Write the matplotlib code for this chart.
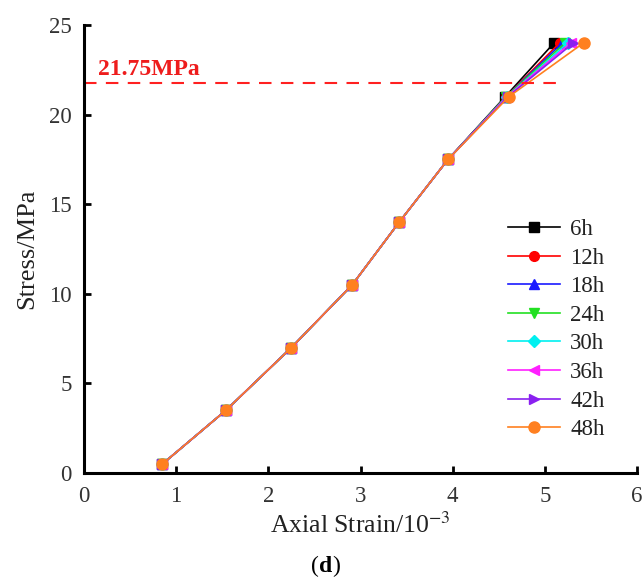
import matplotlib
matplotlib.use("Agg")
import matplotlib.pyplot as plt

plt.rcParams['font.family'] = ['Liberation Serif', 'DejaVu Serif']
plt.rcParams['mathtext.fontset'] = 'stix'

# Stress levels (MPa) shared by every curing time
stress = [0.5, 3.5, 7.0, 10.5, 14.0, 17.5, 21.0, 24.0]

# Axial strain (x10^-3) for each curing time
strain_6h = [0.85, 1.54, 2.25, 2.91, 3.42, 3.95, 4.57, 5.10]
strain_12h = [0.85, 1.54, 2.25, 2.91, 3.42, 3.95, 4.58, 5.16]
strain_18h = [0.85, 1.54, 2.25, 2.91, 3.42, 3.95, 4.58, 5.19]
strain_24h = [0.85, 1.54, 2.25, 2.91, 3.42, 3.95, 4.58, 5.22]
strain_30h = [0.85, 1.54, 2.25, 2.91, 3.42, 3.95, 4.59, 5.25]
strain_36h = [0.85, 1.54, 2.25, 2.91, 3.42, 3.95, 4.59, 5.28]
strain_42h = [0.85, 1.54, 2.25, 2.91, 3.42, 3.95, 4.60, 5.31]
strain_48h = [0.85, 1.54, 2.25, 2.91, 3.42, 3.95, 4.61, 5.42]

labels = ['6h', '12h', '18h', '24h', '30h', '36h', '42h', '48h']
series = [strain_6h, strain_12h, strain_18h, strain_24h,
          strain_30h, strain_36h, strain_42h, strain_48h]
colors = ['#000000', '#ff0000', '#1a1aff', '#22e022',
          '#00f0f0', '#ff20ff', '#8a20f0', '#ff8020']
markers = ['s', 'o', '^', 'v', 'D', '<', '>', 'o']
msizes = [7, 7, 7, 7, 6, 7, 7, 8]

threshold = 21.75

W, H = 642, 588
fig = plt.figure(figsize=(W / 100, H / 100), dpi=100)
ax = fig.add_axes([84 / W, 1 - 473 / H, (637 - 84) / W, (473 - 25) / H])

for xs, lab, c, m, ms in zip(series, labels, colors, markers, msizes):
    ax.plot(xs, stress, color=c, marker=m, markersize=ms, linewidth=1.2,
            label=lab)

ax.plot([0, 5.2], [threshold, threshold], color='#ff2020', linestyle=(0, (6, 4.5)),
        linewidth=1.5)
ax.text(0.15, threshold + 0.18, '21.75MPa', color='#ee1c1c', fontsize=17,
        fontweight='bold', va='bottom', ha='left')

ax.set_xlim(0, 6)
ax.set_ylim(0, 25)
ax.set_xticks(range(0, 7))
ax.set_yticks(range(0, 26, 5))

for side in ['top', 'right']:
    ax.spines[side].set_visible(False)
for side in ['left', 'bottom']:
    ax.spines[side].set_linewidth(2.2)

ax.tick_params(direction='in', length=5, width=2, labelsize=16.5,
               labelcolor='#333333', pad=9)

ax.set_xlabel('Axial Strain/10$^{-3}$', fontsize=18.5, color='#222222', labelpad=4)
ax.set_ylabel('Stress/MPa', fontsize=19, color='#222222', labelpad=7.5)

leg = ax.legend(loc='upper left', bbox_to_anchor=(508 / W, 1 - 219 / H),
                bbox_transform=fig.transFigure, frameon=False,
                fontsize=16.5, handlelength=2.27, labelspacing=0.33,
                handletextpad=0.44, borderpad=0, borderaxespad=0)
for t in leg.get_texts():
    t.set_color('#222222')

fig.text(0.497, 0.037, '(', fontsize=17, ha='right', va='center')
fig.text(0.497, 0.037, 'd', fontsize=17, fontweight='bold', ha='left', va='center')
fig.text(0.518, 0.037, ')', fontsize=17, ha='left', va='center')

fig.savefig('out.png', dpi=100)
